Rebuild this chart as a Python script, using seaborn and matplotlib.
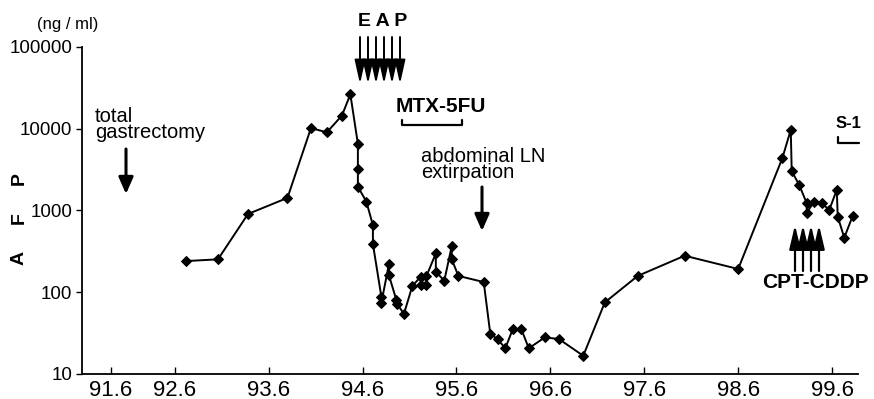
import matplotlib
matplotlib.use("Agg")
import matplotlib.pyplot as plt
import pandas as pd
import seaborn as sns

# --- data (decimal year, AFP in ng/ml) ---
years = [92.72, 93.06, 93.38, 93.80, 94.05, 94.22, 94.38, 94.47, 94.55, 94.55,
         94.55, 94.64, 94.71, 94.71, 94.80, 94.80, 94.88, 94.88, 94.96, 94.97,
         95.04, 95.13, 95.22, 95.22, 95.28, 95.28, 95.38, 95.38, 95.47, 95.55,
         95.55, 95.62, 95.89, 95.96, 96.04, 96.12, 96.20, 96.29, 96.37, 96.54,
         96.69, 96.95, 97.18, 97.53, 98.03, 98.60, 99.07, 99.16, 99.17, 99.25,
         99.33, 99.33, 99.41, 99.49, 99.57, 99.65, 99.66, 99.73, 99.82]
afp = [240, 252, 903, 1420, 10100, 9000, 14400, 26200, 6500, 3200,
       1950, 1280, 660, 388, 88, 74, 219, 162, 80, 72,
       54, 119, 155, 122, 122, 157, 298, 178, 138, 367,
       252, 158, 133, 31, 26.5, 20.6, 35.5, 35.5, 20.6, 28,
       26.8, 16.7, 75, 158, 279, 192, 4340, 9620, 3020, 2040,
       1222, 938, 1280, 1222, 1010, 1780, 838, 463, 861]

# the axis is compressed between 91.6 and 92.6 in the original
xtick_pos = [91.916, 92.6, 93.6, 94.6, 95.6, 96.6, 97.6, 98.6, 99.6]
xtick_labels = ["91.6", "92.6", "93.6", "94.6", "95.6", "96.6", "97.6", "98.6", "99.6"]
ytick_vals = [10, 100, 1000, 10000, 100000]
ytick_labels = ["10", "100", "1000", "10000", "100000"]

sns.set_theme(style="ticks")
plt.rcParams["font.family"] = ["Liberation Sans", "DejaVu Sans"]

W, H = 874, 399
fig = plt.figure(figsize=(W / 100, H / 100), dpi=100)
ax = fig.add_axes([82 / W, 1 - 374 / H, (858 - 82) / W, (374 - 46.7) / H])

df = pd.DataFrame({"year": years, "afp": afp})
sns.lineplot(data=df, x="year", y="afp", estimator=None, sort=False,
             color="black", lw=1.4, marker="D", markersize=5.5,
             markeredgecolor="black", ax=ax)

ax.set_yscale("log")
ax.set_ylim(10, 100000)
ax.set_xlim(91.612, 99.876)
ax.set_yticks(ytick_vals)
ax.set_yticklabels(ytick_labels, fontsize=13.5)
ax.minorticks_off()
ax.set_xticks(xtick_pos)
ax.set_xticklabels(xtick_labels, fontsize=16)
ax.tick_params(axis="x", direction="in", length=5, width=1, pad=4, colors="black")
ax.tick_params(axis="y", direction="out", length=4, width=1, pad=3, colors="black")
ax.set_xlabel("")
ax.set_ylabel("")
for s in ["top", "right"]:
    ax.spines[s].set_visible(False)
for s in ["left", "bottom"]:
    ax.spines[s].set_linewidth(1.3)
    ax.spines[s].set_color("black")


def fx(px):
    return px / W


def fy(py):
    return 1 - py / H


def txt(px, py, s, **kw):
    fig.text(fx(px), fy(py), s, color="black", **kw)


def arrow(x, y0, y1, lw=2.2, hl=0.5, hw=0.22):
    ax.annotate("", xy=(fx(x), fy(y1)), xytext=(fx(x), fy(y0)),
                xycoords="figure fraction", textcoords="figure fraction",
                arrowprops=dict(arrowstyle=f"-|>,head_length={hl},head_width={hw}",
                                lw=lw, color="black", mutation_scale=20,
                                shrinkA=0, shrinkB=0))


# labels
txt(37, 25, "(ng / ml)", fontsize=12, va="center", ha="left")
for letter, py in zip(["A", "F", "P"], [258, 218, 179]):
    txt(19, py, letter, fontsize=14, fontweight="bold", rotation=90,
        ha="center", va="center")

txt(95, 124, "total\ngastrectomy", fontsize=14.5, va="center", ha="left",
    linespacing=0.8)
arrow(126, 149, 194)

txt(383, 22, "E A P", fontsize=14, fontweight="bold", ha="center", va="center")
for x in [360, 368, 376, 384, 392, 400]:
    arrow(x, 37, 84, lw=1.4, hl=0.72, hw=0.16)

txt(441, 107, "MTX-5FU", fontsize=15, fontweight="bold", ha="center", va="center")
ax.plot([fx(402), fx(402), fx(462), fx(462)], [fy(120), fy(125), fy(125), fy(120)],
        transform=fig.transFigure, color="black", lw=1.6, clip_on=False)

txt(421, 164, "abdominal LN\nextirpation", fontsize=14.5, va="center", ha="left",
    linespacing=0.8)
arrow(482, 187, 231)

txt(848, 124, "S-1", fontsize=12, fontweight="bold", ha="center", va="center")
ax.plot([fx(838), fx(838), fx(859)], [fy(137), fy(143), fy(143)],
        transform=fig.transFigure, color="black", lw=1.6, clip_on=False)

for x in [795, 803, 811, 819]:
    arrow(x, 271, 225, lw=1.6, hl=0.72, hw=0.17)
txt(815, 283, "CPT-CDDP", fontsize=15, fontweight="bold", ha="center", va="center")

fig.savefig("out.png", dpi=100)
